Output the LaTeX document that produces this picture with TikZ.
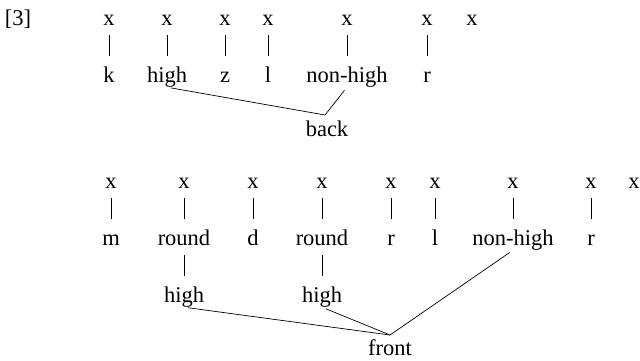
\documentclass[tikz,border=0pt]{standalone}
\usepackage{fontspec}
\setmainfont{Liberation Serif}
\begin{document}
\begin{tikzpicture}[x=1pt,y=-1pt,
  every node/.style={font=\fontsize{22.5}{27}\selectfont, inner sep=0pt, anchor=base, text height=15pt, text depth=5pt},
  bar/.style={shorten <=5pt, shorten >=11pt, line width=0.7pt},
  link/.style={shorten <=4pt, line width=0.7pt}]
\useasboundingbox (0,0) rectangle (640,360);
% label
\node (n3) at (18,25) {[3]};
% row 1 skeleton
\node (a1) at (109,25) {x};
\node (a2) at (167,25) {x};
\node (a3) at (225,25) {x};
\node (a4) at (268,25) {x};
\node (a5) at (347,25) {x};
\node (a6) at (427,25) {x};
\node (a7) at (472,25) {x};
% row 1 melody
\node (b1) at (109,82) {k};
\node (b2) at (167,82) {high};
\node (b3) at (225,82) {z};
\node (b4) at (268,82) {l};
\node (b5) at (347,82) {non-high};
\node (b6) at (427,82) {r};
\node (back) at (327,136) {back};
\foreach \i in {1,...,6} \draw[bar] (a\i.south) -- (b\i.north);
\coordinate (j1) at (325,115);
\draw[link] (b2.south) -- (j1);
\draw[link] (b5.south) -- (j1);
% row 2 skeleton
\node (c1) at (111,188) {x};
\node (c2) at (184,188) {x};
\node (c3) at (253,188) {x};
\node (c4) at (322,188) {x};
\node (c5) at (391,188) {x};
\node (c6) at (435,188) {x};
\node (c7) at (513,188) {x};
\node (c8) at (591,188) {x};
\node (c9) at (634,188) {x};
% row 2 melody
\node (d1) at (111,245) {m};
\node (d2) at (184,245) {round};
\node (d3) at (253,245) {d};
\node (d4) at (322,245) {round};
\node (d5) at (391,245) {r};
\node (d6) at (435,245) {l};
\node (d7) at (513,245) {non-high};
\node (d8) at (591,245) {r};
\foreach \i in {1,...,8} \draw[bar] (c\i.south) -- (d\i.north);
\node (e2) at (184,302) {high};
\node (e4) at (322,302) {high};
\draw[bar] (d2.south) -- (e2.north);
\draw[bar] (d4.south) -- (e4.north);
\node[text depth=0pt] (front) at (390,355) {front};
\coordinate (j2) at (390,335);
\draw[link] (e2.south) -- (j2);
\draw[link] (e4.south) -- (j2);
\draw[link] (d7.south) -- (j2);
\end{tikzpicture}
\end{document}
